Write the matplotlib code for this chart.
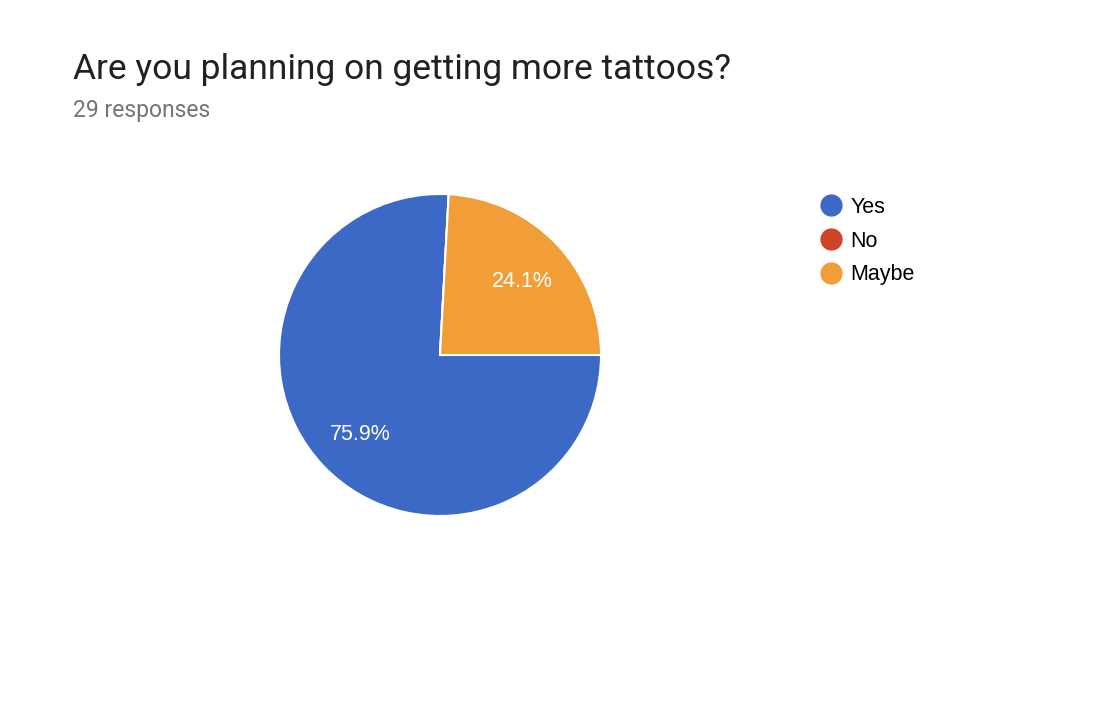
import matplotlib
matplotlib.use("Agg")
import matplotlib.pyplot as plt
from matplotlib.lines import Line2D

title = "Are you planning on getting more tattoos?"
subtitle = "29 responses"
answers = ["Yes", "No", "Maybe"]
counts = [22, 0, 7]
colors = ["#3d69c6", "#cf4328", "#f19e38"]

W, H = 1106, 724
fig = plt.figure(figsize=(W / 100, H / 100), dpi=100)

# pie: centre (440, 355) px, radius 161 px
cx, cy, r = 440, 355, 161
ax = fig.add_axes([(cx - r) / W, (H - cy - r) / H, 2 * r / W, 2 * r / H])


def pct(p):
    return "%.1f%%" % p if p > 0.5 else ""


wedges, _, autotexts = ax.pie(counts, colors=colors, startangle=0, counterclock=False,
                              autopct=pct, pctdistance=0.69, radius=1,
                              wedgeprops=dict(edgecolor="white", linewidth=1.5))
for t in autotexts:
    t.set_color("white")
    t.set_fontsize(15.5)
    t.set_family("Liberation Sans")
    x, y = t.get_position()
    t.set_position((x + 0.008, y - 0.019))
ax.set_xlim(-1, 1)
ax.set_ylim(-1, 1)

fig.text(73 / W, 1 - 69 / H, title, fontsize=25.5, family="Roboto", color="#202124",
         va="center", ha="left")
fig.text(73 / W, 1 - 110 / H, subtitle, fontsize=16.5, family="Roboto", color="#70757a",
         va="center", ha="left")

handles = [Line2D([], [], marker="o", linestyle="none", markersize=15,
                  markerfacecolor=c, markeredgecolor=c) for c in colors]
fig.legend(handles, answers, loc="upper left", bbox_to_anchor=(805 / W, 1 - 188 / H),
           frameon=False, prop=dict(family="Liberation Sans", size=15.5),
           handletextpad=0.1, labelspacing=0.6, handlelength=1.6, borderaxespad=0)

fig.savefig("out.png", dpi=100, facecolor="white")
